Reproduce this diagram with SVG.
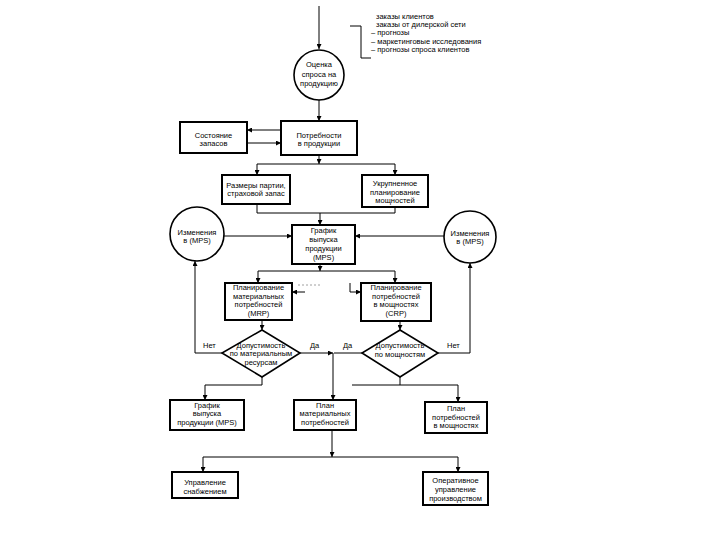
<svg xmlns="http://www.w3.org/2000/svg" width="720" height="540" viewBox="0 0 720 540">
<style>
.b{fill:#fff;stroke:#000;stroke-width:2}
.c{fill:#fff;stroke:#000;stroke-width:1.6}
.t{font-family:"Liberation Sans",Arial,sans-serif;font-size:7.5px;fill:#000;text-anchor:middle}
.l{font-family:"Liberation Sans",Arial,sans-serif;font-size:7.5px;fill:#000}
.k{fill:none;stroke:#000;stroke-width:1}
.f{fill:none;stroke:#888;stroke-width:0.8;stroke-dasharray:2 2}
</style>
<defs>
<marker id="a" viewBox="0 0 6 6" refX="6" refY="3" markerWidth="5" markerHeight="5" orient="auto" markerUnits="userSpaceOnUse"><path d="M0,0L6,3L0,6z" fill="#000"/></marker>
</defs>
<rect width="720" height="540" fill="#fff"/>
<g id="inputs">
<text class="l" x="376" y="19">заказы клиентов</text>
<text class="l" x="376" y="27">заказы от дилерской сети</text>
<text class="l" x="371" y="35">– прогнозы</text>
<text class="l" x="371" y="44">– маркетинговые исследования</text>
<text class="l" x="371" y="52">– прогнозы спроса клиентов</text>
<path class="k" d="M350,26H361V58H371"/>
</g>
<g id="connectors">
<path class="k" d="M319,6V49" marker-end="url(#a)"/>
<path class="k" d="M319,100V121" marker-end="url(#a)"/>
<path class="k" d="M281,130H247" marker-end="url(#a)"/>
<path class="k" d="M247,143H281" marker-end="url(#a)"/>
<path class="k" d="M319,155V164" marker-end="url(#a)"/>
<path class="k" d="M257,164H395"/>
<path class="k" d="M257,164V175" marker-end="url(#a)"/>
<path class="k" d="M395,164V175" marker-end="url(#a)"/>
<path class="k" d="M257,204V213H395V207"/>
<path class="k" d="M320,213V225" marker-end="url(#a)"/>
<path class="k" d="M224,236H292" marker-end="url(#a)"/>
<path class="k" d="M444,236H355" marker-end="url(#a)"/>
<path class="k" d="M320,264V271" marker-end="url(#a)"/>
<path class="k" d="M258,271H395"/>
<path class="k" d="M258,271V283" marker-end="url(#a)"/>
<path class="k" d="M395,271V283" marker-end="url(#a)"/>
<path class="f" d="M320,285H297"/>
<path class="k" d="M305,292H292" marker-end="url(#a)"/>
<path class="k" d="M350,283V292H361" marker-end="url(#a)"/>
<path class="k" d="M262,320V330" marker-end="url(#a)"/>
<path class="k" d="M400,321V330" marker-end="url(#a)"/>
<path class="k" d="M222,353H195V261" marker-end="url(#a)"/>
<path class="k" d="M438,353H470V263" marker-end="url(#a)"/>
<path class="k" d="M300,353H333" marker-end="url(#a)"/>
<path class="k" d="M362,353H334"/>
<path class="k" d="M333,353V400" marker-end="url(#a)"/>
<path class="k" d="M262,377V385H205V400" marker-end="url(#a)"/>
<path class="k" d="M400,377V385"/>
<path class="k" d="M352,385H458V402" marker-end="url(#a)"/>
<path class="k" d="M332,430V457" marker-end="url(#a)"/>
<path class="k" d="M203,457H458"/>
<path class="k" d="M203,457V472" marker-end="url(#a)"/>
<path class="k" d="M458,457V472" marker-end="url(#a)"/>
<text class="l" x="203" y="348">Нет</text>
<text class="l" x="310" y="348">Да</text>
<text class="l" x="343" y="348">Да</text>
<text class="l" x="447" y="348">Нет</text>
</g>
<g id="n-demand">
<circle class="c" cx="319" cy="75" r="25"/>
<text class="t" x="319" y="67">Оценка</text>
<text class="t" x="319" y="77">спроса на</text>
<text class="t" x="319" y="86">продукцию</text>
</g>
<g id="n-stock">
<rect class="b" x="180" y="122" width="67" height="31"/>
<text class="t" x="213.5" y="138">Состояние</text>
<text class="t" x="213.5" y="146">запасов</text>
</g>
<g id="n-needs">
<rect class="b" x="281" y="121" width="76" height="34"/>
<text class="t" x="319" y="138">Потребности</text>
<text class="t" x="319" y="146">в продукции</text>
</g>
<g id="n-lot">
<rect class="b" x="222" y="175" width="68" height="29"/>
<text class="t" x="256" y="188">Размеры партии,</text>
<text class="t" x="256" y="196">страховой запас</text>
</g>
<g id="n-rough">
<rect class="b" x="362" y="175" width="66" height="32"/>
<text class="t" x="395" y="186">Укрупненное</text>
<text class="t" x="395" y="195">планирование</text>
<text class="t" x="395" y="203">мощностей</text>
</g>
<g id="n-chg-left">
<circle class="c" cx="197" cy="234" r="27"/>
<text class="t" x="197" y="235">Изменения</text>
<text class="t" x="197" y="243">в (MPS)</text>
</g>
<g id="n-chg-right">
<circle class="c" cx="470" cy="237" r="26"/>
<text class="t" x="470" y="236">Изменения</text>
<text class="t" x="470" y="244">в (MPS)</text>
</g>
<g id="n-mps">
<rect class="b" x="292" y="225" width="63" height="39"/>
<text class="t" x="323.5" y="233">График</text>
<text class="t" x="323.5" y="242">выпуска</text>
<text class="t" x="323.5" y="251">продукции</text>
<text class="t" x="323.5" y="260">(MPS)</text>
</g>
<g id="n-mrp">
<rect class="b" x="225" y="283" width="67" height="37"/>
<text class="t" x="258.5" y="290">Планирование</text>
<text class="t" x="258.5" y="299">материальных</text>
<text class="t" x="258.5" y="307">потребностей</text>
<text class="t" x="258.5" y="316">(MRP)</text>
</g>
<g id="n-crp">
<rect class="b" x="361" y="283" width="70" height="38"/>
<text class="t" x="396" y="290">Планирование</text>
<text class="t" x="396" y="299">потребностей</text>
<text class="t" x="396" y="307">в мощностях</text>
<text class="t" x="396" y="316">(CRP)</text>
</g>
<g id="n-dec-mat">
<path class="c" d="M262,330L300,353L262,377L222,353z"/>
<text class="t" x="261" y="348">Допустимость</text>
<text class="t" x="261" y="356">по материальным</text>
<text class="t" x="261" y="365">ресурсам</text>
</g>
<g id="n-dec-cap">
<path class="c" d="M400,330L438,353L400,377L362,353z"/>
<text class="t" x="400" y="348">Допустимость</text>
<text class="t" x="400" y="357">по мощностям</text>
</g>
<g id="n-mps-out">
<rect class="b" x="170" y="400" width="74" height="30"/>
<text class="t" x="207" y="408">График</text>
<text class="t" x="207" y="416">выпуска</text>
<text class="t" x="207" y="425">продукции (MPS)</text>
</g>
<g id="n-mat-plan">
<rect class="b" x="294" y="400" width="62" height="30"/>
<text class="t" x="325" y="408">План</text>
<text class="t" x="325" y="416">материальных</text>
<text class="t" x="325" y="425">потребностей</text>
</g>
<g id="n-cap-plan">
<rect class="b" x="425" y="402" width="62" height="31"/>
<text class="t" x="456" y="411">План</text>
<text class="t" x="456" y="420">потребностей</text>
<text class="t" x="456" y="428">в мощностях</text>
</g>
<g id="n-supply">
<rect class="b" x="172" y="472" width="66" height="26"/>
<text class="t" x="205" y="485">Управление</text>
<text class="t" x="205" y="494">снабжением</text>
</g>
<g id="n-ops">
<rect class="b" x="423" y="472" width="65" height="33"/>
<text class="t" x="455.5" y="483">Оперативное</text>
<text class="t" x="455.5" y="492">управление</text>
<text class="t" x="455.5" y="501">производством</text>
</g>
</svg>
